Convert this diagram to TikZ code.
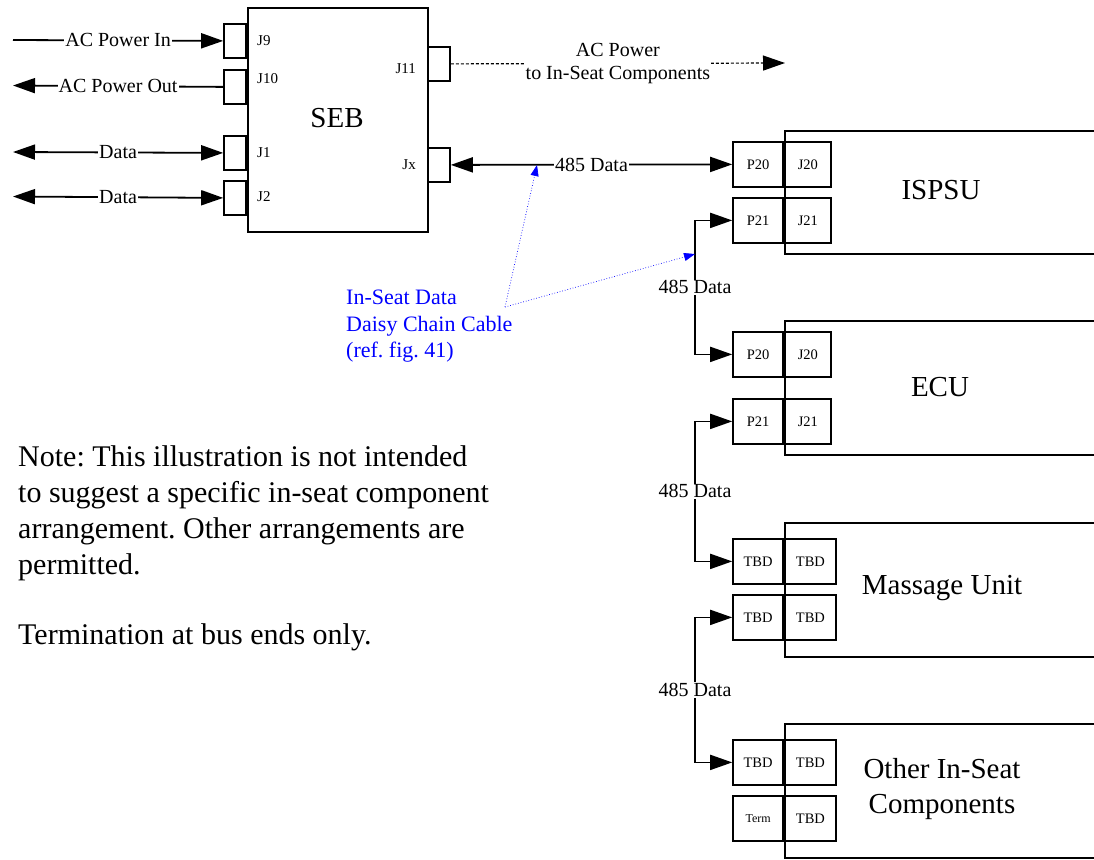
\documentclass[tikz,border=0pt]{standalone}
\usepackage{fontspec}
\setmainfont{Liberation Serif}
\usetikzlibrary{arrows.meta}
\frenchspacing

\tikzset{
    box/.style     = {draw, black, line width = 1.8pt, inner sep = 0pt},
    port/.style    = {box, minimum width = 22pt, minimum height = 34pt},
    plug/.style    = {box, minimum width = 50pt, minimum height = 45pt, font = \fontsize{14.5}{16}\selectfont},
    jack/.style    = {box, minimum width = #1, minimum height = 45pt, font = \fontsize{14.5}{16}\selectfont},
    pin/.style     = {inner sep = 0pt, font = \fontsize{15}{17}\selectfont},
    tag/.style     = {fill = white, inner sep = 1pt, font = \fontsize{20}{23}\selectfont},
    unitname/.style = {align = center, font = \fontsize{29}{35}\selectfont},
    wire/.style    = {black, line width = 1.8pt},
    bighead/.tip   = {Triangle[length = 22pt, width = 15pt]},
    pointer/.style = {blue, line width = .7pt, dotted, -{Triangle[length = 11pt, width = 8pt]}},
}

\begin{document}
\begin{tikzpicture}[x = 1pt, y = -1pt]
    \useasboundingbox (0, 0) rectangle (1094, 859);

    % SEB
    \node [box, anchor = north west, minimum width = 180pt, minimum height = 224pt] (seb) at (247, 7) {};
    \node [unitname] (seblabel) at (337, 118) {SEB};

    \node [port, anchor = north east] (j9)  at (247, 23)  {};
    \node [port, anchor = north east] (j10) at (247, 69)  {};
    \node [port, anchor = north east] (j1)  at (247, 135) {};
    \node [port, anchor = north east] (j2)  at (247, 180) {};
    \node [port, anchor = north west] (j11) at (427, 46)  {};
    \node [port, anchor = north west] (jx)  at (427, 147) {};

    \node [pin, anchor = west] (j9pin)  at (257, 41)  {J9};
    \node [pin, anchor = west] (j10pin) at (257, 79)  {J10};
    \node [pin, anchor = west] (j1pin)  at (257, 153) {J1};
    \node [pin, anchor = west] (j2pin)  at (257, 197) {J2};
    \node [pin, anchor = east] (j11pin) at (416, 69)  {J11};
    \node [pin, anchor = east] (jxpin)  at (416, 165) {Jx};

    % left side wires
    \coordinate (acin)  at (13, 40);
    \coordinate (acout) at (13, 85.5);
    \coordinate (data1) at (13, 152);
    \coordinate (data2) at (13, 196.5);

    \draw [wire, -bighead] (acin) -- node [tag] {AC Power In} (j9.west);
    \draw [wire, -bighead] (j10.west) -- node [tag] {AC Power Out} (acout);
    \draw [wire, bighead-bighead] (data1) -- node [tag] {Data} (j1.west);
    \draw [wire, bighead-bighead] (data2) -- node [tag] {Data} (j2.west);

    % AC power to seat
    \coordinate (acseat) at (785, 63);
    \draw [wire, line width = 1.2pt, dash pattern = on 3pt off 2pt, -bighead] (j11.east)
        -- node [tag, align = center] {AC Power\\to In-Seat Components} (acseat);

    % ISPSU
    \node [box, anchor = north west, minimum width = 330pt, minimum height = 123pt] (ispsu) at (784, 130) {};
    \node [unitname] (ispsulabel) at (941, 190) {ISPSU};
    \node [plug, anchor = north east]      (isp20p) at (784, 141) {P20};
    \node [jack = 46pt, anchor = north west] (isp20j) at (784, 141) {J20};
    \node [plug, anchor = north east]      (isp21p) at (784, 197) {P21};
    \node [jack = 46pt, anchor = north west] (isp21j) at (784, 197) {J21};

    % ECU
    \node [box, anchor = north west, minimum width = 330pt, minimum height = 134pt] (ecu) at (784, 320) {};
    \node [unitname] (eculabel) at (940, 387) {ECU};
    \node [plug, anchor = north east]      (ecu20p) at (784, 331) {P20};
    \node [jack = 46pt, anchor = north west] (ecu20j) at (784, 331) {J20};
    \node [plug, anchor = north east]      (ecu21p) at (784, 398) {P21};
    \node [jack = 46pt, anchor = north west] (ecu21j) at (784, 398) {J21};

    % Massage Unit
    \node [box, anchor = north west, minimum width = 330pt, minimum height = 134pt] (massage) at (784, 522) {};
    \node [unitname] (massagelabel) at (942, 588) {Massage Unit};
    \node [plug, anchor = north east]      (mas1p) at (784, 538) {TBD};
    \node [jack = 51pt, anchor = north west] (mas1j) at (784, 538) {TBD};
    \node [plug, anchor = north east]      (mas2p) at (784, 594) {TBD};
    \node [jack = 51pt, anchor = north west] (mas2j) at (784, 594) {TBD};

    % Other In-Seat Components
    \node [box, anchor = north west, minimum width = 330pt, minimum height = 134pt] (other) at (784, 723) {};
    \node [unitname] (otherlabel) at (942, 789) {Other In-Seat\\Components};
    \node [plug, anchor = north east]      (oth1p) at (784, 739) {TBD};
    \node [jack = 51pt, anchor = north west] (oth1j) at (784, 739) {TBD};
    \node [plug, anchor = north east, font = \fontsize{12}{14}\selectfont] (oth2p) at (784, 795) {Term};
    \node [jack = 51pt, anchor = north west] (oth2j) at (784, 795) {TBD};

    % 485 data bus
    \coordinate (bus) at (695, 0);
    \draw [wire, bighead-bighead] (jx.east) -- node [tag] {485 Data} (isp20p.west);
    \draw [wire, bighead-bighead] (isp21p.west) -- (isp21p.west -| bus)
        -- node [tag] {485 Data} (ecu20p.west -| bus) -- (ecu20p.west);
    \draw [wire, bighead-bighead] (ecu21p.west) -- (ecu21p.west -| bus)
        -- node [tag] {485 Data} (mas1p.west -| bus) -- (mas1p.west);
    \draw [wire, bighead-bighead] (mas2p.west) -- (mas2p.west -| bus)
        -- node [tag] {485 Data} (oth1p.west -| bus) -- (oth1p.west);

    % cable callout
    \node [blue, anchor = north west, align = left, inner sep = 0pt, font = \fontsize{22}{26.5}\selectfont]
        (cable) at (346, 290) {In-Seat Data\\Daisy Chain Cable\\(ref. fig. 41)};
    \coordinate (callout) at (505, 307);
    \coordinate (cabletop) at (537, 165);
    \coordinate (cablebus) at (695, 254);
    \draw [pointer] (callout) -- (cabletop);
    \draw [pointer] (callout) -- (cablebus);

    % notes
    \node [anchor = north west, align = left, inner sep = 0pt, font = \fontsize{30}{36}\selectfont] (note) at (18, 445)
        {Note: This illustration is not intended\\to suggest a specific in-seat component\\arrangement. Other arrangements are\\permitted.};
    \node [anchor = base west, inner sep = 0pt, font = \fontsize{30}{36}\selectfont] (term) at (18, 644)
        {Termination at bus ends only.};
\end{tikzpicture}
\end{document}
